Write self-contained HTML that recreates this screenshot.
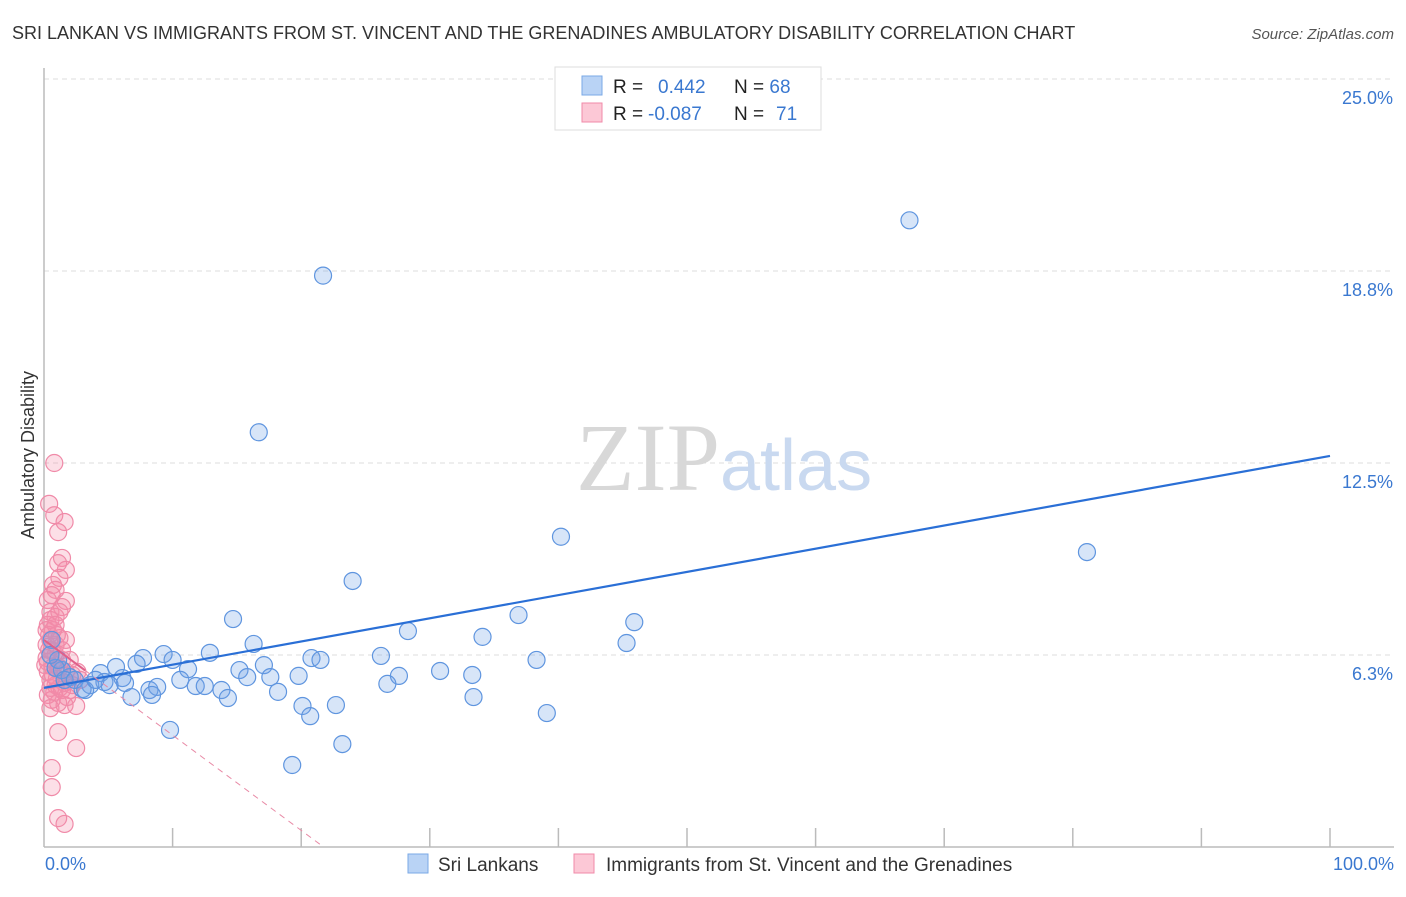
<!DOCTYPE html>
<html><head><meta charset="utf-8"><style>
body{margin:0;background:#fff;font-family:"Liberation Sans",sans-serif;}
svg text{font-family:"Liberation Sans",sans-serif;}
</style></head><body>
<svg id="chart" width="1406" height="892" viewBox="0 0 1406 892" xmlns="http://www.w3.org/2000/svg">
<text x="12" y="39" font-size="18" fill="#333">SRI LANKAN VS IMMIGRANTS FROM ST. VINCENT AND THE GRENADINES AMBULATORY DISABILITY CORRELATION CHART</text>
<text x="1394" y="39" font-size="15" fill="#555" font-style="italic" text-anchor="end">Source: ZipAtlas.com</text>
<g id="grid"></g>
<text x="720" y="490" font-size="96" fill="#d8d8d8" text-anchor="end" font-family="Liberation Serif" style="font-family:'Liberation Serif',serif">ZIP</text>
<text x="720" y="490" font-size="72" fill="#c9d9f0">atlas</text>
<g id="marks"></g>
<text transform="translate(34,455) rotate(-90)" font-size="18" fill="#333" text-anchor="middle">Ambulatory Disability</text>
<text x="45" y="870" font-size="18" fill="#3a78d0">0.0%</text>
<text x="1394" y="870" font-size="18" fill="#3a78d0" text-anchor="end">100.0%</text>
<g>
<rect x="555" y="67" width="266" height="63" fill="#fff" stroke="#ddd"/>
<rect x="582" y="76" width="20" height="19" fill="#b9d3f5" stroke="#7aa8e6"/>
<rect x="582" y="103" width="20" height="19" fill="#fcc8d6" stroke="#f08aa8"/>
<text x="613" y="93" font-size="19" fill="#222">R = <tspan fill="#3a78d0" x="658">0.442</tspan><tspan x="734" fill="#222">N = </tspan><tspan fill="#3a78d0">68</tspan></text>
<text x="613" y="120" font-size="19" fill="#222">R = <tspan fill="#3a78d0" x="648">-0.087</tspan><tspan x="734" fill="#222">N = </tspan><tspan fill="#3a78d0" x="776">71</tspan></text>
</g>
<g>
<rect x="408" y="854" width="20" height="19" fill="#b9d3f5" stroke="#7aa8e6"/>
<text x="438" y="871" font-size="19" fill="#333">Sri Lankans</text>
<rect x="574" y="854" width="20" height="19" fill="#fcc8d6" stroke="#f08aa8"/>
<text x="606" y="871" font-size="19" fill="#333">Immigrants from St. Vincent and the Grenadines</text>
</g>
</svg>
<script>
const yTicks=[6.3,12.5,18.8,25.0];
const yTickLabels=["6.3%","12.5%","18.8%","25.0%"];
const xTicks=[10,20,30,40,50,60,70,80,90,100];
const blueX=[67.3,21.7,16.7,40.2,81.1,24.0,14.7,28.3,36.9,45.9,34.1,45.3,16.3,38.3,26.2,20.8,21.5,12.9,9.3,10.0,7.7,7.2,5.6,4.4,11.2,17.1,15.2,30.8,33.3,27.6,26.7,19.8,17.6,15.8,10.6,6.1,6.3,4.7,3.6,3.0,2.0,1.4,0.9,8.2,8.8,11.8,12.5,13.8,18.2,6.8,8.4,14.3,33.4,20.1,22.7,20.7,39.1,9.8,23.2,19.3,1.6,2.4,1.1,0.6,0.5,3.2,5.1,4.0];
const blueY=[20.4,18.6,13.5,10.1,9.6,8.66,7.42,7.03,7.55,7.32,6.84,6.64,6.61,6.09,6.22,6.15,6.09,6.32,6.28,6.09,6.15,5.96,5.86,5.66,5.79,5.92,5.76,5.73,5.60,5.57,5.31,5.57,5.53,5.53,5.44,5.50,5.34,5.37,5.27,5.14,5.53,5.76,5.83,5.11,5.21,5.24,5.24,5.11,5.05,4.88,4.95,4.85,4.88,4.59,4.62,4.26,4.36,3.81,3.35,2.67,5.44,5.44,6.09,6.74,6.25,5.11,5.27,5.44];
const pinkX=[0.8,0.4,0.8,1.6,1.1,1.4,1.1,1.7,1.2,0.7,0.9,1.7,1.4,0.5,0.9,0.3,0.7,1.0,0.5,1.2,0.2,0.6,0.9,1.4,0.3,0.7,1.1,1.7,2.2,2.6,0.5,0.9,1.2,1.6,2.0,0.3,0.6,1.1,1.6,2.5,0.5,0.8,0.3,1.2,0.2,0.5,0.9,1.4,1.1,2.5,0.6,0.6,1.1,1.6,0.3,0.6,0.2,0.4,0.7,1.0,1.4,1.8,0.1,0.5,2.2,2.8,1.2,0.9,0.4,1.7,2.0];
const pinkY=[12.5,11.17,10.8,10.58,10.25,9.41,9.24,9.02,8.76,8.53,8.37,8.01,7.81,7.65,7.49,7.23,7.06,6.90,6.74,6.80,6.58,6.41,6.25,6.09,6.02,5.86,5.76,5.70,5.60,5.70,5.44,5.27,5.18,5.34,5.11,4.95,4.79,4.69,4.62,4.59,5.18,5.05,5.70,5.83,6.15,7.39,6.58,6.41,3.74,3.22,2.57,1.95,0.94,0.75,8.04,8.20,7.06,6.90,5.60,5.47,5.11,4.88,5.92,4.52,5.27,5.44,7.65,7.23,6.41,6.74,6.09];
const blueTrend=[5.18,12.73];
const pinkTrend=[6.74,-0.31];
const NS="http://www.w3.org/2000/svg";
const X0=44,X1=1330,Y0=847,YPER=30.72;
function sx(p){return X0+p*(X1-X0)/100;}
function sy(v){return Y0-v*YPER;}
function mk(tag,attrs,parent){const e=document.createElementNS(NS,tag);for(const k in attrs)e.setAttribute(k,attrs[k]);parent.appendChild(e);return e;}
const grid=document.getElementById('grid'),marks=document.getElementById('marks'),svg=document.getElementById('chart');
yTicks.forEach((t,i)=>{
  const yy=sy(t===25?25:t===18.8?18.75:t===12.5?12.5:6.25);
  const l=mk('line',{x1:X0,x2:1394,y1:yy,y2:yy,stroke:'#dcdcdc','stroke-dasharray':'5,4'},grid);
  
  
  const tx=mk('text',{x:1393,y:yy+25,'font-size':18,fill:'#3a78d0','text-anchor':'end'},svg);
  tx.textContent=yTickLabels[i];
  
  
});
const ax=mk('line',{x1:X0,x2:X0,y1:68,y2:Y0,stroke:'#bbb','stroke-width':1.5},grid);


const bx=mk('line',{x1:X0,x2:1394,y1:Y0,y2:Y0,stroke:'#bbb','stroke-width':1.5},grid);


xTicks.forEach(t=>{
  const l=mk('line',{x1:sx(t),x2:sx(t),y1:828,y2:Y0,stroke:'#bbb','stroke-width':1.5},grid);
  
  
});
pinkX.forEach((x,i)=>{
  const c=mk('circle',{cx:sx(x),cy:sy(pinkY[i]),r:8.5,fill:'rgba(244,140,170,0.28)',stroke:'#f08aa8','stroke-width':1.2},marks);
  
  
});
blueX.forEach((x,i)=>{
  const c=mk('circle',{cx:sx(x),cy:sy(blueY[i]),r:8.5,fill:'rgba(110,160,230,0.28)',stroke:'#5f95df','stroke-width':1.2},marks);
  
  
});
const bl=mk('line',{x1:sx(0),y1:sy(blueTrend[0]),x2:sx(100),y2:sy(blueTrend[1]),stroke:'#2a6fd6','stroke-width':2.2},marks);


const pEnd=-pinkTrend[0]/pinkTrend[1];
const pd=mk('line',{x1:sx(3.2),y1:sy(pinkTrend[0]+pinkTrend[1]*3.2),x2:sx(pEnd),y2:sy(0),stroke:'#e88aa6','stroke-width':1,'stroke-dasharray':'6,5'},marks);


const ps=mk('line',{x1:sx(0),y1:sy(pinkTrend[0]),x2:sx(3.2),y2:sy(pinkTrend[0]+pinkTrend[1]*3.2),stroke:'#e0608a','stroke-width':2},marks);


</script>
</body></html>
